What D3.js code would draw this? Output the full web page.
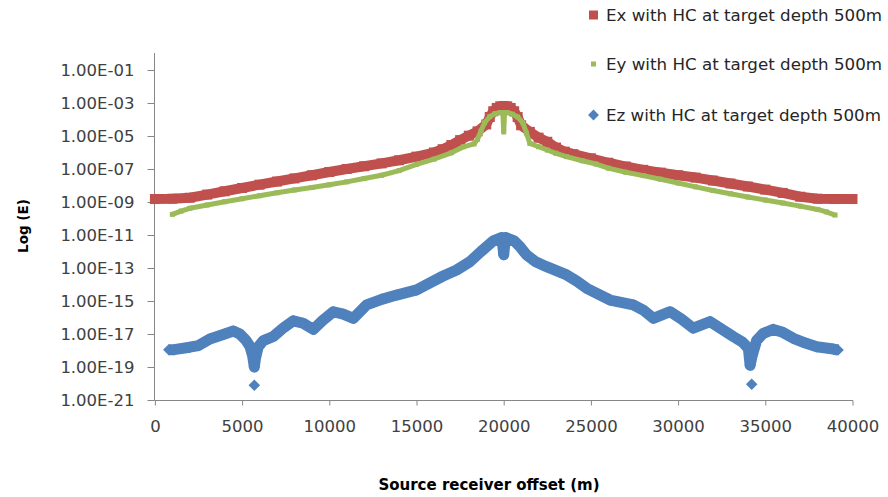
<!DOCTYPE html>
<html><head><meta charset="utf-8">
<script src="https://cdn.jsdelivr.net/npm/d3@7"></script>
<style>body{margin:0;background:#fff}svg{display:block}text{font-family:"DejaVu Sans",sans-serif}</style>
</head><body><svg id="c" width="888" height="497"></svg>
<script>
// Offsets (m) and log10(E) values
const exOffset = [0,1000,2000,3000,4000,5000,6000,7000,8000,9000,10000,11000,12000,13000,14000,15000,16000,16500,17000,17500,18000,18500,19000,19200,19400,19600,19800,20000,20200,20400,20600,20800,21000,21500,22000,22500,23000,23500,24000,25000,26000,27000,28000,29000,30000,31000,32000,33000,34000,35000,36000,37000,38000,39000,40000];
const exLog10  = [-8.82,-8.8,-8.74,-8.55,-8.35,-8.15,-7.95,-7.76,-7.57,-7.38,-7.18,-7.0,-6.83,-6.66,-6.47,-6.25,-6.0,-5.8,-5.55,-5.25,-4.98,-4.72,-4.3,-3.85,-3.5,-3.3,-3.2,-3.18,-3.2,-3.3,-3.5,-3.85,-4.35,-4.75,-5.1,-5.35,-5.7,-5.95,-6.1,-6.35,-6.62,-6.85,-7.05,-7.22,-7.38,-7.52,-7.7,-7.88,-8.06,-8.25,-8.45,-8.68,-8.8,-8.82,-8.82];

const eyOffset = [1000,1500,2000,3000,4000,5000,6000,7000,8000,9000,10000,11000,12000,13000,14000,15000,16000,17000,17700,18300,18500,18700,18900,19200,19500,19800,19950,20000,20050,20200,20500,20800,21100,21300,21500,22000,22500,23000,23600,24500,25300,26000,27000,28000,29000,30000,31000,32000,33000,34000,35000,36000,37000,38000,38500,39000];
const eyLog10  = [-9.75,-9.55,-9.38,-9.18,-8.98,-8.8,-8.62,-8.44,-8.27,-8.12,-7.96,-7.78,-7.58,-7.38,-7.1,-6.72,-6.4,-6.02,-5.65,-5.48,-5.2,-4.7,-4.2,-3.83,-3.65,-3.58,-3.6,-4.75,-3.6,-3.58,-3.68,-3.85,-4.2,-4.82,-5.45,-5.65,-5.85,-6.05,-6.25,-6.5,-6.7,-6.95,-7.2,-7.4,-7.62,-7.85,-8.08,-8.3,-8.5,-8.7,-8.88,-9.06,-9.25,-9.45,-9.6,-9.79];

const ezOffset = [800,1100,2000,2500,3150,4000,4500,4870,5200,5450,5600,5700,5780,5930,6220,6790,7400,7940,8500,9080,9600,10230,10800,11380,11800,12140,13000,13860,15010,15770,16500,17300,18060,18700,19400,19900,20000,20100,20600,20930,21310,21800,22460,23610,24200,24760,26100,27430,28000,28580,29540,30200,30870,31830,32500,33170,33700,34030,34130,34250,34500,34890,35460,36000,36610,37300,37950,38900,39170];
const ezLog10  = [-17.95,-17.95,-17.8,-17.7,-17.3,-17.0,-16.82,-17.0,-17.35,-17.75,-18.3,-19.0,-18.4,-17.77,-17.4,-17.15,-16.6,-16.2,-16.35,-16.72,-16.2,-15.65,-15.8,-16.05,-15.6,-15.24,-14.9,-14.64,-14.33,-13.9,-13.5,-13.12,-12.62,-12.0,-11.36,-11.15,-12.2,-11.15,-11.35,-11.7,-12.21,-12.6,-12.92,-13.42,-13.8,-14.23,-14.94,-15.24,-15.55,-16.05,-15.65,-16.1,-16.65,-16.25,-16.7,-17.16,-17.5,-17.87,-18.9,-18.3,-17.4,-16.96,-16.72,-16.9,-17.26,-17.55,-17.77,-17.91,-17.97];
// isolated Ez minima points
const ezMinOffset = [5700, 34220];
const ezMinLog10  = [-20.1, -20.05];

const yTickExp = [-21,-19,-17,-15,-13,-11,-9,-7,-5,-3,-1];
const xTicks = [0,5000,10000,15000,20000,25000,30000,35000,40000];
const seriesNames = ["Ex with HC at target depth 500m","Ey with HC at target depth 500m","Ez with HC at target depth 500m"];
const colors = ["#C0504D","#9BBB59","#4F81BD"];

const svg = d3.select("#c");
const x = d3.scaleLinear().domain([0,40000]).range([154.9,852.5]);
const y = d3.scaleLog().domain([1e-21,1]).range([400,53.5]);
const pts = (xs, ls) => xs.map((v,i)=>[v, Math.pow(10, ls[i])]);

const axisCol = "#868686", txtCol = "#404040";
// Y axis
const yAxis = d3.axisLeft(y).tickValues(yTickExp.map(e=>Math.pow(10,e))).tickSize(7).tickPadding(13)
  .tickFormat(d => "1.00E-" + String(Math.round(-Math.log10(d))).padStart(2,"0"));
const gy = svg.append("g").attr("transform","translate(154.5,0)").call(yAxis);
gy.select(".domain").attr("d","M-0,53V400.5").attr("stroke",axisCol);
gy.selectAll(".tick line").attr("stroke",axisCol);
gy.selectAll(".tick text").attr("fill",txtCol).style("font-size","16.5px");
// X axis
const xAxis = d3.axisBottom(x).tickValues(xTicks).tickSize(5).tickPadding(15).tickFormat(d3.format("d"));
const gx = svg.append("g").attr("transform","translate(0,400.5)").call(xAxis);
gx.select(".domain").attr("d","M154.5,0H853").attr("stroke",axisCol);
gx.selectAll(".tick line").attr("stroke",axisCol);
gx.selectAll(".tick text").attr("fill",txtCol).style("font-size","16.5px");

// titles
svg.append("text").attr("x",489).attr("y",490).attr("text-anchor","middle")
  .style("font-weight","bold").style("font-size","15px").attr("fill","#000").text("Source receiver offset (m)");
svg.append("text").attr("transform","translate(28,226) rotate(-90)").attr("text-anchor","middle")
  .style("font-weight","bold").style("font-size","13.5px").attr("fill","#000").text("Log (E)");

const line = d3.line().x(d=>x(d[0])).y(d=>y(d[1])).curve(d3.curveLinear);
const exData = pts(exOffset, exLog10), eyData = pts(eyOffset, eyLog10), ezData = pts(ezOffset, ezLog10);
const ezMin = pts(ezMinOffset, ezMinLog10);

// Ex
svg.append("path").datum(exData).attr("d",line).attr("fill","none").attr("stroke",colors[0]).attr("stroke-width",10).attr("stroke-linejoin","round");
svg.append("g").selectAll("rect").data(exData).join("rect")
  .attr("x",d=>x(d[0])-5).attr("y",d=>y(d[1])-5).attr("width",10).attr("height",10).attr("fill",colors[0]);
// Ey
svg.append("path").datum(eyData).attr("d",line).attr("fill","none").attr("stroke",colors[1]).attr("stroke-width",5).attr("stroke-linejoin","round");
svg.append("g").selectAll("rect").data(eyData).join("rect")
  .attr("x",d=>x(d[0])-2.5).attr("y",d=>y(d[1])-2.5).attr("width",5).attr("height",5).attr("fill",colors[1]);
// Ez
const diamond = d3.symbol().type(d3.symbolDiamond2).size(85);
svg.append("path").datum(ezData).attr("d",line).attr("fill","none").attr("stroke",colors[2]).attr("stroke-width",11).attr("stroke-linejoin","round");
svg.append("g").selectAll("path").data(ezData.concat(ezMin)).join("path")
  .attr("d",diamond).attr("transform",d=>`translate(${x(d[0])},${y(d[1])})`).attr("fill",colors[2]);

// Legend
const lg = svg.append("g");
const legY = [15,64,115];
lg.append("rect").attr("x",589).attr("y",legY[0]-4.5).attr("width",9).attr("height",9).attr("fill",colors[0]);
lg.append("rect").attr("x",591).attr("y",legY[1]-2.5).attr("width",5).attr("height",5).attr("fill",colors[1]);
lg.append("path").attr("d",d3.symbol().type(d3.symbolDiamond2).size(75)).attr("transform",`translate(593.5,${legY[2]})`).attr("fill",colors[2]);
seriesNames.forEach((n,i)=>{
  lg.append("text").attr("x",606).attr("y",legY[i]+6).style("font-size","16.7px").attr("fill","#262626").text(n);
});
</script></body></html>
